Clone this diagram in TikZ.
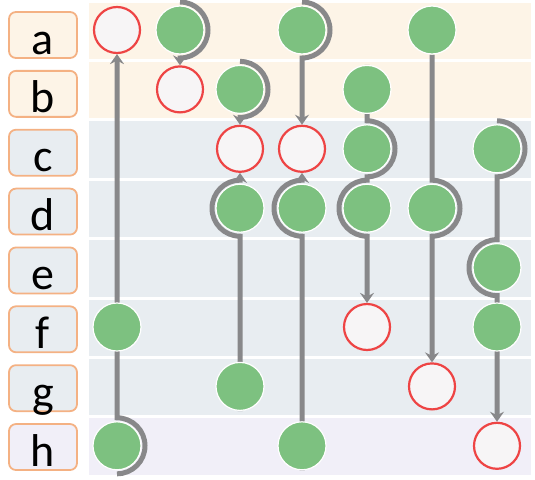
\documentclass[tikz,border=0pt]{standalone}
\usepackage{fontspec}
\setmainfont{Carlito}
\usetikzlibrary{calc,arrows.meta}

\definecolor{keep}{RGB}{125,193,128}
\definecolor{miss}{RGB}{238,68,68}
\definecolor{missfill}{RGB}{247,245,246}
\definecolor{flow}{RGB}{136,136,138}
\definecolor{warm}{RGB}{253,244,231}
\definecolor{cool}{RGB}{232,237,241}
\definecolor{lilac}{RGB}{241,239,248}
\definecolor{tab}{RGB}{244,177,131}

\pgfdeclarelayer{bands}
\pgfdeclarelayer{lines}
\pgfsetlayers{bands,lines,main}

\begin{document}
\begin{tikzpicture}[x=1pt,y=1pt]

\def \r {28}

\tikzstyle{hitnode}=[circle, fill=keep, draw=white, line width=1.2pt, minimum size=48pt, inner sep=0pt]
\tikzstyle{missnode}=[circle, fill=missfill, draw=miss, line width=2.2pt, minimum size=46pt, inner sep=0pt]
\tikzstyle{tag}=[draw=tab, line width=1.8pt, rounded corners=7pt, minimum width=68pt, minimum height=46pt, inner sep=0pt, text height=40pt, text depth=2pt, font=\fontsize{46}{50}\selectfont]
\tikzstyle{link}=[draw=flow, line width=5pt, -{Stealth[length=10pt,width=14pt,inset=3.5pt]}]

\useasboundingbox (0,0) rectangle (535,-479);

% Row labels and bands
\foreach \t/\c [count=\i from 0] in {a/warm,b/warm,c/cool,d/cool,e/cool,f/cool,g/cool,h/lilac} {
  \pgfmathsetmacro\y{-30-59.4*\i}
  \pgfmathsetmacro\ly{-35-58.86*\i}
  \node[tag, fill=\c] (tag\t) at (43,\ly) {\t};
  \begin{pgfonlayer}{bands}
    \fill[\c] (89,\y+27.5) rectangle (531,\y-29);
  \end{pgfonlayer}
}

% Column 1
\node[missnode] (a1) at (117,-30) {};
\node[hitnode] (f1) at (117,-327) {};
\node[hitnode] (h1) at (117,-445.8) {};

% Column 2
\node[hitnode] (a2) at (180,-30) {};
\node[missnode] (b2) at (180,-89.4) {};

% Column 3
\node[hitnode] (b3) at (240,-89.4) {};
\node[missnode] (c3) at (240,-148.8) {};
\node[hitnode] (d3) at (240,-208.2) {};
\node[hitnode] (g3) at (240,-386.4) {};

% Column 4
\node[hitnode] (a4) at (302,-30) {};
\node[missnode] (c4) at (302,-148.8) {};
\node[hitnode] (d4) at (302,-208.2) {};
\node[hitnode] (h4) at (302,-445.8) {};

% Column 5
\node[hitnode] (b5) at (367,-89.4) {};
\node[hitnode] (c5) at (367,-148.8) {};
\node[hitnode] (d5) at (367,-208.2) {};
\node[missnode] (f5) at (367,-327) {};

% Column 6
\node[hitnode] (a6) at (432,-30) {};
\node[hitnode] (d6) at (432,-208.2) {};
\node[missnode] (g6) at (432,-386.4) {};

% Column 7
\node[hitnode] (c7) at (497,-148.8) {};
\node[hitnode] (e7) at (497,-267.6) {};
\node[hitnode] (f7) at (497,-327) {};
\node[missnode] (h7) at (497,-445.8) {};

% Links
\begin{pgfonlayer}{lines}
\draw[link] ($(h1)+(0,-\r)$) arc[start angle=-90, end angle=90, radius=\r] -- (a1);
\draw[link] ($(a2)+(0,\r)$) arc[start angle=90, end angle=-90, radius=\r] -- (b2);
\draw[link] ($(b3)+(0,\r)$) arc[start angle=90, end angle=-90, radius=\r] -- (c3);
\draw[link] (g3.south) -- ($(d3)+(0,-\r)$) arc[start angle=-90, end angle=-270, radius=\r] -- (c3);
\draw[link] ($(a4)+(0,\r)$) arc[start angle=90, end angle=-90, radius=\r] -- (c4);
\draw[link] (h4.south) -- ($(d4)+(0,-\r)$) arc[start angle=-90, end angle=-270, radius=\r] -- (c4);
\draw[link] (b5.north) -- ($(c5)+(0,\r)$) arc[start angle=90, end angle=-90, radius=\r] -- ($(d5)+(0,\r)$) arc[start angle=90, end angle=270, radius=\r] -- (f5);
\draw[link] (a6) -- ($(d6)+(0,\r)$) arc[start angle=90, end angle=-90, radius=\r] -- (g6);
\draw[link] ($(c7)+(0,\r)$) arc[start angle=90, end angle=-90, radius=\r] -- ($(e7)+(0,\r)$) arc[start angle=90, end angle=270, radius=\r] -- (h7);
\end{pgfonlayer}

\end{tikzpicture}
\end{document}
